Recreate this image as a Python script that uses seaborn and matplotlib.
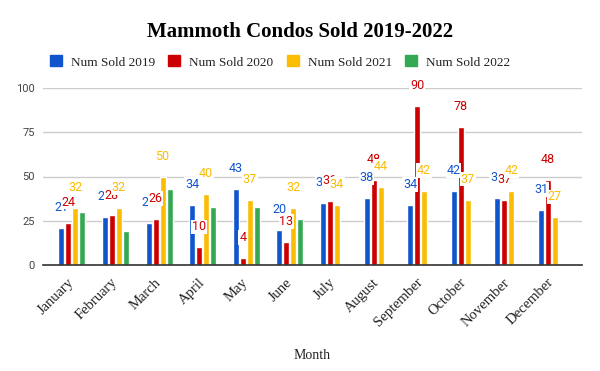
import numpy as np
import pandas as pd
import matplotlib
matplotlib.use("Agg")
import matplotlib.pyplot as plt
import seaborn as sns

months = ["January", "February", "March", "April", "May", "June", "July",
          "August", "September", "October", "November", "December"]
sold_2019 = [21, 27, 24, 34, 43, 20, 35, 38, 34, 42, 38, 31]
sold_2020 = [24, 28, 26, 10, 4, 13, 36, 48, 90, 78, 37, 48]
sold_2021 = [32, 32, 50, 40, 37, 32, 34, 44, 42, 37, 42, 27]
sold_2022 = [30, 19, 43, 33, 33, 26, None, None, None, None, None, None]
series = ["Num Sold 2019", "Num Sold 2020", "Num Sold 2021", "Num Sold 2022"]
colors = ["#1155cc", "#cc0000", "#fbbc04", "#34a853"]
y_ticks = [0, 25, 50, 75, 100]

rows = []
for name, vals in zip(series, [sold_2019, sold_2020, sold_2021, sold_2022]):
    for m, v in zip(months, vals):
        rows.append({"Month": m, "Series": name, "Value": np.nan if v is None else v})
df = pd.DataFrame(rows)

sns.set_theme(style="white")
serif = ["Liberation Serif", "DejaVu Serif"]
sans = ["Roboto", "DejaVu Sans"]

fig = plt.figure(figsize=(6.0, 3.71), dpi=100)
ax = fig.add_axes([43 / 600, 1 - 265 / 371, (582 - 43) / 600, (265 - 88) / 371])

sns.barplot(data=df, x="Month", y="Value", hue="Series", order=months,
            hue_order=series, palette=colors, width=0.642, gap=0.14,
            saturation=1, ax=ax, legend=False, errorbar=None, zorder=3)

ax.set_xlim(-0.661, 11.701)
ax.set_ylim(0, 100)
ax.set_yticks(y_ticks)
ax.set_yticklabels([str(t) for t in y_ticks], fontsize=8, color="#444444",
                   family=sans)
ax.yaxis.grid(True, color="#cccccc", linewidth=1, zorder=0)
ax.set_axisbelow(True)
for s in ["top", "right", "left"]:
    ax.spines[s].set_visible(False)
ax.spines["bottom"].set_color("#333333")
ax.spines["bottom"].set_linewidth(1.2)
ax.spines["bottom"].set_zorder(4)
ax.tick_params(axis="both", length=0, pad=6)
ax.set_ylabel("")
ax.set_xticks(range(len(months)))
ax.set_xticklabels(months, rotation=45, ha="right", va="center",
                   rotation_mode="anchor", fontsize=10.5, color="#222222",
                   family=serif)
ax.tick_params(axis="x", pad=11)
ax.set_xlabel("Month", fontsize=10, color="#222222", family=serif, labelpad=14)

for i, cont in enumerate(ax.containers[:3]):
    ax.bar_label(cont, fmt="%d", padding=10, color=colors[i], fontsize=9,
                 family=sans, zorder=5,
                 bbox=dict(facecolor="white", edgecolor="none", pad=0.5))

fig.text(0.5, 1 - 32 / 371, "Mammoth Condos Sold 2019-2022", ha="center",
         va="center", fontsize=15, fontweight="bold", family=serif, color="#000000")

handles = [plt.Rectangle((0, 0), 1, 1, color=c) for c in colors]
fig.legend(handles, series, loc="center left", bbox_to_anchor=(38 / 600, 1 - 62 / 371),
           ncol=4, frameon=False, prop={"family": serif, "size": 9.5},
           handlelength=0.9, handleheight=0.9, handletextpad=0.7,
           columnspacing=1.0, labelcolor="#222222")

fig.savefig("out.png", dpi=100, facecolor="white")
